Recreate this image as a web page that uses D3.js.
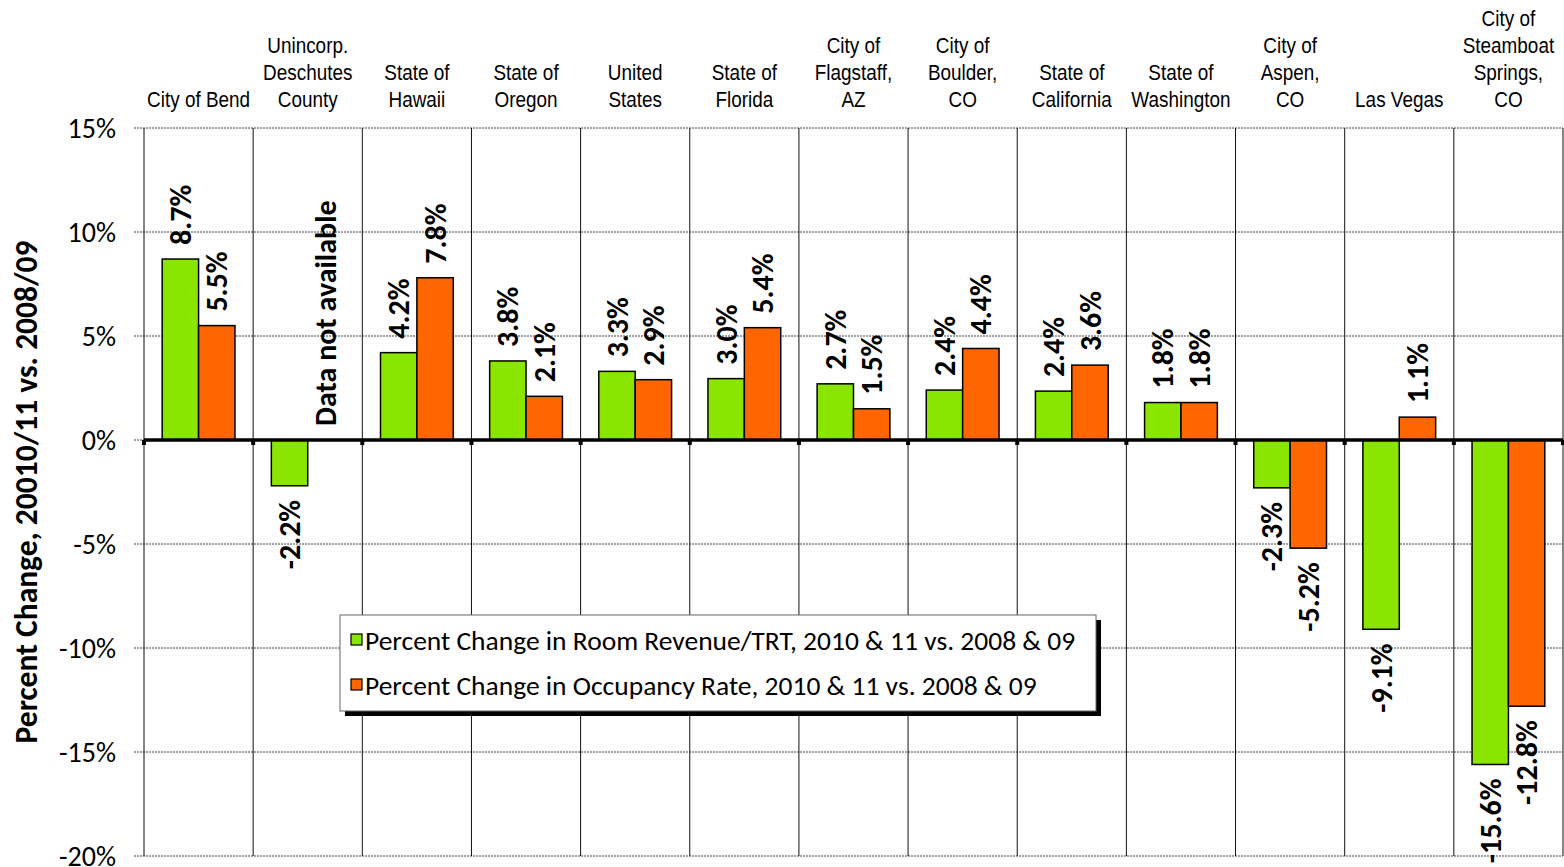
<!DOCTYPE html>
<html>
<head>
<meta charset="utf-8">
<script src="https://cdn.jsdelivr.net/npm/d3@7"></script>
<style>
  body { margin: 0; background: #fff; }
  svg { display: block; }
  .cal { font-family: Carlito, "Open Sans", sans-serif; }
  .cat { font-family: "Liberation Sans", Arial, sans-serif; font-size: 21.5px; fill: #000; }
</style>
</head>
<body>
<svg width="1564" height="867"></svg>
<script>
// Data
var categories = [
  ["City of Bend"],
  ["Unincorp.", "Deschutes", "County"],
  ["State of", "Hawaii"],
  ["State of", "Oregon"],
  ["United", "States"],
  ["State of", "Florida"],
  ["City of", "Flagstaff,", "AZ"],
  ["City of", "Boulder,", "CO"],
  ["State of", "California"],
  ["State of", "Washington"],
  ["City of", "Aspen,", "CO"],
  ["Las Vegas"],
  ["City of", "Steamboat", "Springs,", "CO"]
];
var roomRevenue = [8.7, -2.2, 4.2, 3.8, 3.3, 2.95, 2.7, 2.4, 2.35, 1.8, -2.3, -9.1, -15.6];
var occupancy = [5.5, null, 7.8, 2.1, 2.9, 5.4, 1.5, 4.4, 3.6, 1.8, -5.2, 1.1, -12.8];
var seriesNames = [
  "Percent Change in Room Revenue/TRT, 2010 & 11 vs. 2008 & 09",
  "Percent Change in Occupancy Rate, 2010 & 11 vs. 2008 & 09"
];
var seriesColors = ["#8AE600", "#FF6600"];
var yTicks = [-20, -15, -10, -5, 0, 5, 10, 15];

var svg = d3.select("svg");
var mLeft = 144, mRight = 1563, mTop = 128, mBottom = 856;

var x = d3.scaleBand()
  .domain(d3.range(categories.length))
  .range([mLeft, mRight]);
var xs = d3.scaleBand()
  .domain([0, 1])
  .range([0, x.bandwidth()])
  .paddingOuter(0.5);
var y = d3.scaleLinear().domain([-20, 15]).range([mBottom, mTop]);

function edge(i) { return i < categories.length ? x(i) : mRight; }

// horizontal gridlines (the zero one is only seen as a small tick on the left)
svg.append("g")
  .selectAll("line")
  .data(yTicks)
  .enter()
  .append("line")
  .attr("x1", mLeft - 10)
  .attr("x2", mRight)
  .attr("y1", function (d) { return y(d); })
  .attr("y2", function (d) { return y(d); })
  .attr("stroke", "#444")
  .attr("stroke-width", 1)
  .attr("stroke-dasharray", "2,1");

// vertical separators
svg.append("g")
  .selectAll("line")
  .data(d3.range(categories.length + 1))
  .enter()
  .append("line")
  .attr("x1", edge)
  .attr("x2", edge)
  .attr("y1", mTop)
  .attr("y2", mBottom)
  .attr("stroke", "#111")
  .attr("stroke-width", 1);

// y tick labels
svg.append("g")
  .selectAll("text")
  .data(yTicks)
  .enter()
  .append("text")
  .attr("class", "cal")
  .attr("x", 116)
  .attr("y", function (d) { return y(d); })
  .attr("dy", "0.35em")
  .attr("text-anchor", "end")
  .style("font-size", "28px")
  .text(function (d) { return d + "%"; });

// y title
svg.append("text")
  .attr("class", "cal")
  .attr("transform", "translate(26,492) rotate(-90)")
  .attr("text-anchor", "middle")
  .attr("dy", "0.35em")
  .style("font-size", "31.5px")
  .style("font-weight", "bold")
  .text("Percent Change, 20010/11 vs. 2008/09");

// category labels (narrow Arial look)
var cat = svg.append("g")
  .selectAll("text")
  .data(categories)
  .enter()
  .append("text")
  .attr("class", "cat")
  .attr("text-anchor", "middle")
  .attr("transform", function (d, i) {
    return "translate(" + (x(i) + x.bandwidth() / 2) + ",0) scale(0.88,1)";
  });
cat.selectAll("tspan")
  .data(function (d) {
    return d.map(function (s, j) { return { s: s, j: j, n: d.length }; });
  })
  .enter()
  .append("tspan")
  .attr("x", 0)
  .attr("y", function (d) { return 107 - (d.n - 1 - d.j) * 27; })
  .text(function (d) { return d.s; });

// bars
var series = [roomRevenue, occupancy];
var bars = [];
series.forEach(function (vals, s) {
  vals.forEach(function (v, i) {
    bars.push({ s: s, i: i, v: v });
  });
});

svg.append("g")
  .selectAll("rect")
  .data(bars.filter(function (d) { return d.v !== null; }))
  .enter()
  .append("rect")
  .attr("x", function (d) { return x(d.i) + xs(d.s); })
  .attr("width", xs.bandwidth())
  .attr("y", function (d) { return y(Math.max(0, d.v)); })
  .attr("height", function (d) { return Math.abs(y(d.v) - y(0)); })
  .attr("fill", function (d) { return seriesColors[d.s]; })
  .attr("stroke", "#000")
  .attr("stroke-width", 1.5);

// zero line and ticks
svg.append("line")
  .attr("x1", mLeft)
  .attr("x2", mRight)
  .attr("y1", y(0))
  .attr("y2", y(0))
  .attr("stroke", "#000")
  .attr("stroke-width", 3.5);
svg.append("g")
  .selectAll("rect")
  .data(d3.range(categories.length + 1))
  .enter()
  .append("rect")
  .attr("x", function (i) { return edge(i) - 2; })
  .attr("y", y(0))
  .attr("width", 4)
  .attr("height", 5)
  .attr("fill", "#000");

// data labels
svg.append("g")
  .selectAll("text")
  .data(bars)
  .enter()
  .append("text")
  .attr("class", "cal")
  .style("font-size", "30px")
  .style("font-weight", "bold")
  .attr("dy", "0.35em")
  .attr("text-anchor", function (d) { return d.v === null || d.v >= 0 ? "start" : "end"; })
  .attr("transform", function (d) {
    var cx = x(d.i) + xs(d.s) + xs.bandwidth() / 2;
    var v = d.v === null ? 0 : d.v;
    var ty = v >= 0 ? y(v) - 14 : y(v) + 14;
    return "translate(" + cx + "," + ty + ") rotate(-90)";
  })
  .text(function (d) { return d.v === null ? "Data not available" : d.v.toFixed(1) + "%"; });

// legend
var lg = svg.append("g").attr("transform", "translate(340,615)");
lg.append("rect")
  .attr("x", 5).attr("y", 5)
  .attr("width", 756).attr("height", 96)
  .attr("fill", "#000");
lg.append("rect")
  .attr("width", 756).attr("height", 96)
  .attr("fill", "#fff")
  .attr("stroke", "#666")
  .attr("stroke-width", 1);
var item = lg.selectAll(".item")
  .data(seriesNames)
  .enter()
  .append("g")
  .attr("transform", function (d, i) { return "translate(11," + (25 + i * 45) + ")"; });
item.append("rect")
  .attr("x", 0).attr("y", -6)
  .attr("width", 11).attr("height", 11)
  .attr("fill", function (d, i) { return seriesColors[i]; })
  .attr("stroke", "#000")
  .attr("stroke-width", 1.2);
item.append("text")
  .attr("class", "cal")
  .attr("x", 14)
  .attr("dy", "0.35em")
  .style("font-size", "27.5px")
  .text(function (d) { return d; });
</script>
</body>
</html>
